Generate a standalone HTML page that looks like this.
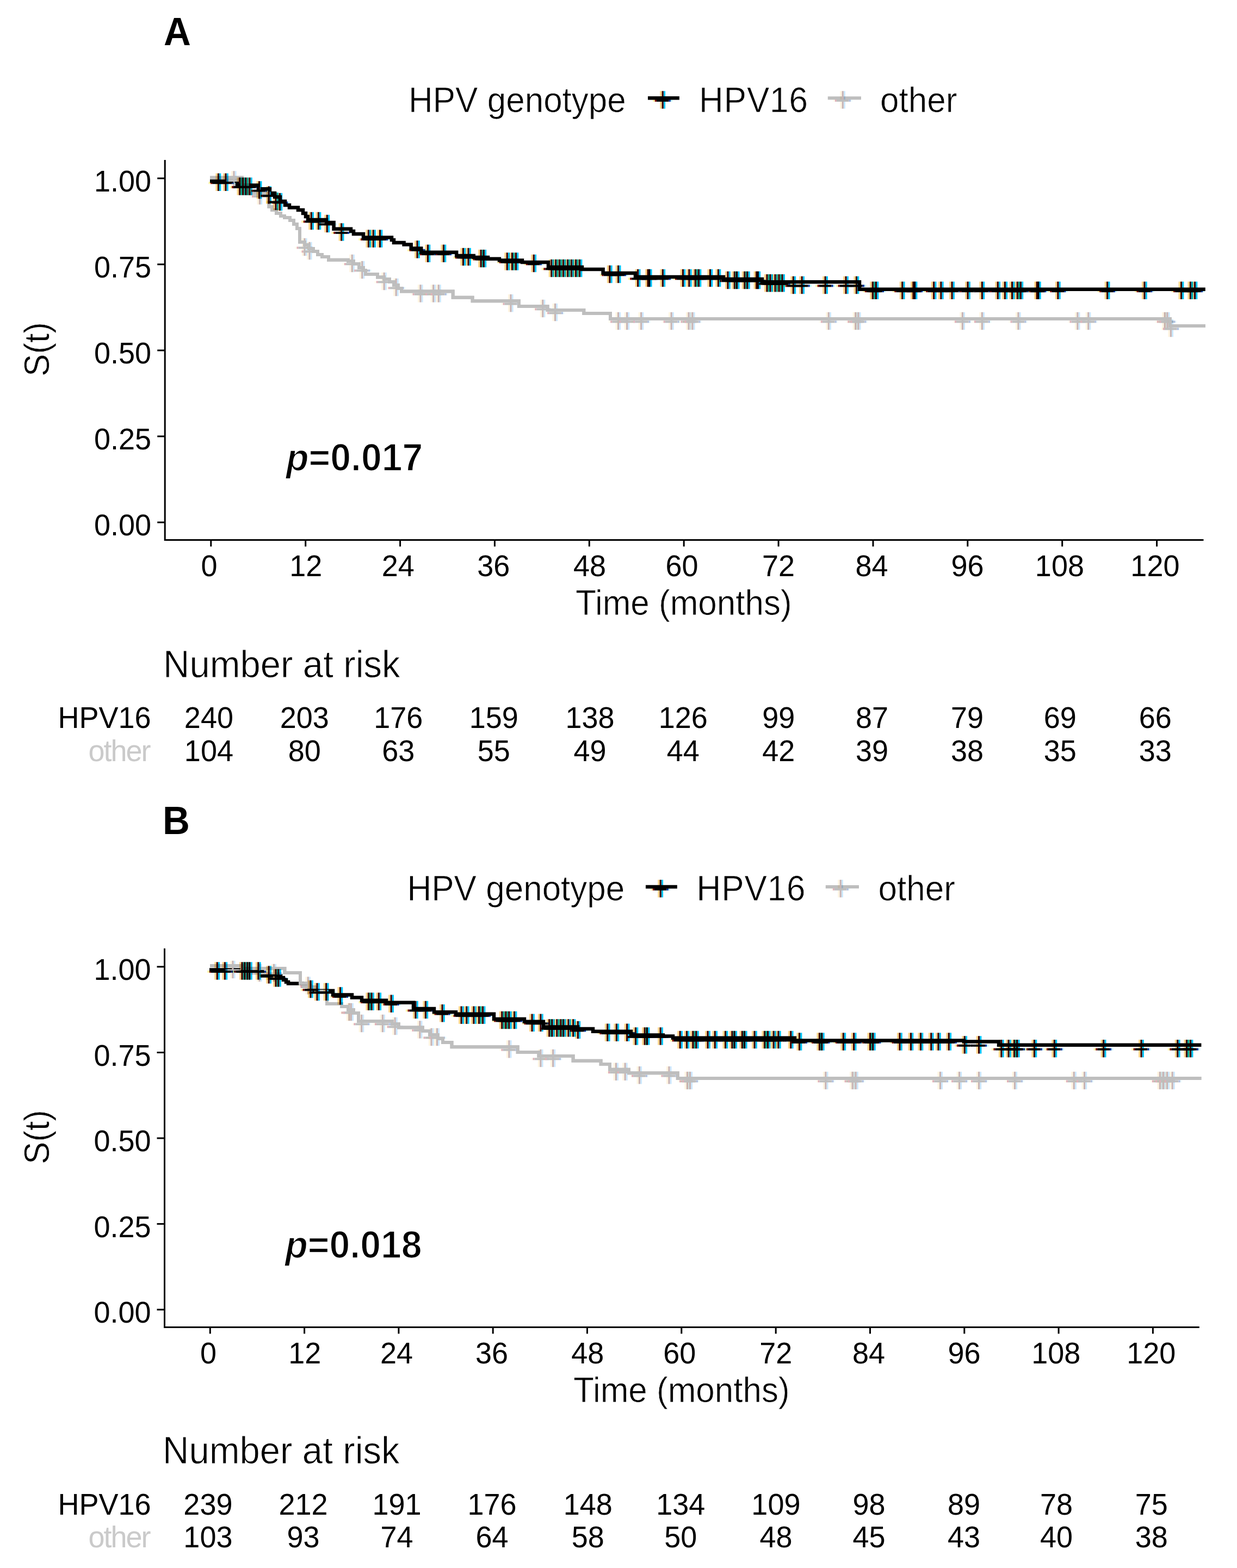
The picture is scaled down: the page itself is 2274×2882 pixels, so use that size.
<!DOCTYPE html>
<html><head><meta charset="utf-8"><style>
html,body{margin:0;padding:0;background:#fff;}
svg{display:block;}
text{font-family:"Liberation Sans",Arial,sans-serif;}
</style></head><body>
<svg width="2274" height="2882" viewBox="0 0 2274 2882">
<rect width="2274" height="2882" fill="#fff"/>
<defs>
<g id="cb" style="mix-blend-mode:multiply"><rect x="-5" y="-16.2" width="3.4" height="32.4" fill="#ffd488"/><rect x="1.5" y="-16.2" width="3.3" height="32.4" fill="#00c4ff"/><rect x="-1.6" y="-16.2" width="3.1" height="32.4" fill="#3c0000"/><rect x="-18" y="-0.6" width="3.5" height="4" fill="#fff4a0"/><rect x="-14.5" y="-0.6" width="3.1" height="4" fill="#800000"/><rect x="-11.4" y="-0.6" width="22.7" height="4" fill="#000"/><rect x="11.3" y="-0.6" width="3.3" height="4" fill="#0030a0"/><rect x="14.6" y="-0.6" width="3.1" height="4" fill="#c0ffff"/></g>
<g id="cg"><g style="mix-blend-mode:multiply"><rect x="-5" y="-16.2" width="3.4" height="32.4" fill="#fff4e0"/><rect x="1.5" y="-16.2" width="3.1" height="32.4" fill="#cce8ff"/><rect x="-18" y="-0.6" width="3.5" height="4" fill="#fffff0"/><rect x="14.6" y="-0.6" width="3.1" height="4" fill="#f0ffff"/></g><rect x="-1.6" y="-16.2" width="3.1" height="32.4" fill="#c8b4b4"/><rect x="-14.5" y="-0.6" width="3.1" height="4" fill="#e0b0b8"/><rect x="-11.4" y="-0.6" width="22.7" height="4" fill="#bebebe"/><rect x="11.3" y="-0.6" width="3.3" height="4" fill="#b0c0e0"/></g>
</defs>
<text transform="translate(301.0 82.6) scale(1 1.040)" font-size="69" font-weight="bold">A</text>
<text transform="translate(751.0 206.0) scale(1 1.040)" font-size="62" stroke="#fff" stroke-width="0.7">HPV genotype</text>
<line x1="1191.0" y1="180.3" x2="1248.9" y2="180.3" stroke="#000" stroke-width="6.5"/>
<use href="#cb" x="1218.3" y="183.5"/>
<text transform="translate(1285.0 206.0) scale(1 1.040)" font-size="62" stroke="#fff" stroke-width="0.7" textLength="200" lengthAdjust="spacing">HPV16</text>
<line x1="1521.8" y1="180.3" x2="1583.0" y2="180.3" stroke="#bebebe" stroke-width="6.0"/>
<use href="#cg" x="1549.3" y="183.5"/>
<text transform="translate(1618.0 206.0) scale(1 1.040)" font-size="62" stroke="#fff" stroke-width="0.7">other</text>
<path d="M303.2 294.0 V992.5 H2212.5" fill="none" stroke="#000" stroke-width="3"/>
<line x1="289.2" y1="327.8" x2="303.2" y2="327.8" stroke="#000" stroke-width="3"/>
<text transform="translate(278.0 352.1) scale(1 1.040)" font-size="54" text-anchor="end">1.00</text>
<line x1="289.2" y1="485.9" x2="303.2" y2="485.9" stroke="#000" stroke-width="3"/>
<text transform="translate(278.0 510.2) scale(1 1.040)" font-size="54" text-anchor="end">0.75</text>
<line x1="289.2" y1="644.0" x2="303.2" y2="644.0" stroke="#000" stroke-width="3"/>
<text transform="translate(278.0 668.3) scale(1 1.040)" font-size="54" text-anchor="end">0.50</text>
<line x1="289.2" y1="802.0" x2="303.2" y2="802.0" stroke="#000" stroke-width="3"/>
<text transform="translate(278.0 826.3) scale(1 1.040)" font-size="54" text-anchor="end">0.25</text>
<line x1="289.2" y1="960.1" x2="303.2" y2="960.1" stroke="#000" stroke-width="3"/>
<text transform="translate(278.0 984.4) scale(1 1.040)" font-size="54" text-anchor="end">0.00</text>
<line x1="387.8" y1="992.5" x2="387.8" y2="1004.5" stroke="#000" stroke-width="3"/>
<text transform="translate(384.4 1059.0) scale(1 1.040)" font-size="54" text-anchor="middle">0</text>
<line x1="561.7" y1="992.5" x2="561.7" y2="1004.5" stroke="#000" stroke-width="3"/>
<text transform="translate(562.3 1059.0) scale(1 1.040)" font-size="54" text-anchor="middle">12</text>
<line x1="735.6" y1="992.5" x2="735.6" y2="1004.5" stroke="#000" stroke-width="3"/>
<text transform="translate(731.8 1059.0) scale(1 1.040)" font-size="54" text-anchor="middle">24</text>
<line x1="909.4" y1="992.5" x2="909.4" y2="1004.5" stroke="#000" stroke-width="3"/>
<text transform="translate(907.3 1059.0) scale(1 1.040)" font-size="54" text-anchor="middle">36</text>
<line x1="1083.3" y1="992.5" x2="1083.3" y2="1004.5" stroke="#000" stroke-width="3"/>
<text transform="translate(1084.0 1059.0) scale(1 1.040)" font-size="54" text-anchor="middle">48</text>
<line x1="1257.2" y1="992.5" x2="1257.2" y2="1004.5" stroke="#000" stroke-width="3"/>
<text transform="translate(1253.6 1059.0) scale(1 1.040)" font-size="54" text-anchor="middle">60</text>
<line x1="1431.1" y1="992.5" x2="1431.1" y2="1004.5" stroke="#000" stroke-width="3"/>
<text transform="translate(1431.1 1059.0) scale(1 1.040)" font-size="54" text-anchor="middle">72</text>
<line x1="1605.0" y1="992.5" x2="1605.0" y2="1004.5" stroke="#000" stroke-width="3"/>
<text transform="translate(1602.4 1059.0) scale(1 1.040)" font-size="54" text-anchor="middle">84</text>
<line x1="1778.8" y1="992.5" x2="1778.8" y2="1004.5" stroke="#000" stroke-width="3"/>
<text transform="translate(1778.6 1059.0) scale(1 1.040)" font-size="54" text-anchor="middle">96</text>
<line x1="1952.7" y1="992.5" x2="1952.7" y2="1004.5" stroke="#000" stroke-width="3"/>
<text transform="translate(1947.9 1059.0) scale(1 1.040)" font-size="54" text-anchor="middle">108</text>
<line x1="2126.6" y1="992.5" x2="2126.6" y2="1004.5" stroke="#000" stroke-width="3"/>
<text transform="translate(2123.4 1059.0) scale(1 1.040)" font-size="54" text-anchor="middle">120</text>
<text transform="translate(1257.0 1130.0) scale(1 1.040)" font-size="62" stroke="#fff" stroke-width="0.7" text-anchor="middle">Time (months)</text>
<text transform="translate(90.0 642.0) rotate(-90) scale(1 1.040)" font-size="62" stroke="#fff" stroke-width="0.7" text-anchor="middle">S(t)</text>
<path d="M386.0 332.8 L436.0 332.8 L436.0 340.5 L475.0 340.5 L475.0 347.2 L496.0 347.2 L496.0 355.0 L505.0 355.0 L505.0 362.0 L515.0 362.0 L515.0 370.0 L524.0 370.0 L524.0 377.0 L532.0 377.0 L532.0 381.5 L548.0 381.5 L548.0 386.0 L557.0 386.0 L557.0 392.0 L562.0 392.0 L562.0 398.0 L566.0 398.0 L566.0 404.0 L600.0 404.0 L600.0 409.0 L613.6 409.0 L613.6 420.7 L645.0 420.7 L645.0 425.0 L650.0 425.0 L650.0 430.0 L668.0 430.0 L668.0 436.6 L720.0 436.6 L720.0 441.0 L724.0 441.0 L724.0 446.0 L742.6 446.0 L742.6 449.4 L755.7 449.4 L755.7 456.4 L774.2 456.4 L774.2 463.8 L839.2 463.8 L839.2 470.0 L870.8 470.0 L870.8 473.1 L897.0 473.1 L897.0 475.7 L918.0 475.7 L918.0 478.5 L960.0 478.5 L960.0 482.0 L1008.0 482.0 L1008.0 491.0 L1070.0 491.0 L1070.0 495.0 L1108.6 495.0 L1108.6 502.0 L1168.0 502.0 L1168.0 509.0 L1330.0 509.0 L1330.0 513.0 L1401.0 513.0 L1401.0 518.3 L1580.0 518.3 L1580.0 531.8 L2215.8 531.8" fill="none" stroke="#000" stroke-width="6.5" stroke-linejoin="miter"/>
<path d="M386.0 326.5 L445.0 326.5 L445.0 340.0 L455.0 340.0 L455.0 355.6 L494.5 355.6 L494.5 380.0 L500.0 380.0 L500.0 386.0 L508.0 386.0 L508.0 392.0 L516.0 392.0 L516.0 397.0 L523.0 397.0 L523.0 400.0 L533.0 400.0 L533.0 405.0 L540.0 405.0 L540.0 412.0 L546.0 412.0 L546.0 420.0 L551.0 420.0 L551.0 445.0 L560.0 445.0 L560.0 450.0 L568.0 450.0 L568.0 457.0 L576.0 457.0 L576.0 462.0 L584.0 462.0 L584.0 468.0 L592.0 468.0 L592.0 472.0 L604.0 472.0 L604.0 477.8 L640.0 477.8 L640.0 480.0 L650.0 480.0 L650.0 485.0 L660.0 485.0 L660.0 492.0 L668.0 492.0 L668.0 497.0 L672.0 497.0 L672.0 504.0 L694.0 504.0 L694.0 509.4 L706.0 509.4 L706.0 513.0 L716.0 513.0 L716.0 518.0 L724.0 518.0 L724.0 524.0 L732.0 524.0 L732.0 530.0 L738.0 530.0 L738.0 535.4 L832.7 535.4 L832.7 546.7 L868.6 546.7 L868.6 553.2 L953.9 553.2 L953.9 563.0 L1006.6 563.0 L1006.6 570.0 L1073.3 570.0 L1073.3 576.1 L1122.0 576.1 L1122.0 586.0 L2150.8 586.0 L2150.8 599.1 L2215.8 599.1" fill="none" stroke="#bebebe" stroke-width="6.0" stroke-linejoin="miter"/>
<use href="#cg" x="430.0" y="330.5"/>
<use href="#cg" x="477.5" y="359.6"/>
<use href="#cg" x="560.0" y="454.0"/>
<use href="#cg" x="569.0" y="461.0"/>
<use href="#cg" x="647.3" y="484.0"/>
<use href="#cg" x="665.8" y="496.0"/>
<use href="#cg" x="706.2" y="517.0"/>
<use href="#cg" x="728.2" y="528.0"/>
<use href="#cg" x="773.0" y="539.4"/>
<use href="#cg" x="796.7" y="539.4"/>
<use href="#cg" x="806.3" y="539.4"/>
<use href="#cg" x="939.0" y="557.2"/>
<use href="#cg" x="997.8" y="567.0"/>
<use href="#cg" x="1020.6" y="574.0"/>
<use href="#cg" x="1136.6" y="590.0"/>
<use href="#cg" x="1152.7" y="590.0"/>
<use href="#cg" x="1178.7" y="590.0"/>
<use href="#cg" x="1234.2" y="590.0"/>
<use href="#cg" x="1266.0" y="590.0"/>
<use href="#cg" x="1273.0" y="590.0"/>
<use href="#cg" x="1523.3" y="590.0"/>
<use href="#cg" x="1572.7" y="590.0"/>
<use href="#cg" x="1578.0" y="590.0"/>
<use href="#cg" x="1769.4" y="590.0"/>
<use href="#cg" x="1805.4" y="590.0"/>
<use href="#cg" x="1872.0" y="590.0"/>
<use href="#cg" x="1980.9" y="590.0"/>
<use href="#cg" x="2000.8" y="590.0"/>
<use href="#cg" x="2141.2" y="590.0"/>
<use href="#cg" x="2146.0" y="590.0"/>
<use href="#cg" x="2152.4" y="603.1"/>
<path d="M386.0 326.5 L445.0 326.5 L445.0 340.0 L455.0 340.0 L455.0 355.6 L494.5 355.6 L494.5 380.0 L500.0 380.0 L500.0 386.0 L508.0 386.0 L508.0 392.0 L516.0 392.0 L516.0 397.0 L523.0 397.0 L523.0 400.0 L533.0 400.0 L533.0 405.0 L540.0 405.0 L540.0 412.0 L546.0 412.0 L546.0 420.0 L551.0 420.0 L551.0 445.0 L560.0 445.0 L560.0 450.0 L568.0 450.0 L568.0 457.0 L576.0 457.0 L576.0 462.0 L584.0 462.0 L584.0 468.0 L592.0 468.0 L592.0 472.0 L604.0 472.0 L604.0 477.8 L640.0 477.8 L640.0 480.0 L650.0 480.0 L650.0 485.0 L660.0 485.0 L660.0 492.0 L668.0 492.0 L668.0 497.0 L672.0 497.0 L672.0 504.0 L694.0 504.0 L694.0 509.4 L706.0 509.4 L706.0 513.0 L716.0 513.0 L716.0 518.0 L724.0 518.0 L724.0 524.0 L732.0 524.0 L732.0 530.0 L738.0 530.0 L738.0 535.4 L832.7 535.4 L832.7 546.7 L868.6 546.7 L868.6 553.2 L953.9 553.2 L953.9 563.0 L1006.6 563.0 L1006.6 570.0 L1073.3 570.0 L1073.3 576.1 L1122.0 576.1 L1122.0 586.0 L2150.8 586.0 L2150.8 599.1 L2215.8 599.1" fill="none" stroke="#bebebe" stroke-width="6.0" stroke-linejoin="miter"/>
<use href="#cb" x="401.5" y="334.8"/>
<use href="#cb" x="415.0" y="334.8"/>
<use href="#cb" x="440.6" y="342.5"/>
<use href="#cb" x="446.7" y="342.5"/>
<use href="#cb" x="452.0" y="342.5"/>
<use href="#cb" x="459.0" y="342.5"/>
<use href="#cb" x="476.6" y="349.2"/>
<use href="#cb" x="494.2" y="358.5"/>
<use href="#cb" x="507.0" y="370.0"/>
<use href="#cb" x="514.4" y="371.0"/>
<use href="#cb" x="572.3" y="406.0"/>
<use href="#cb" x="585.5" y="406.0"/>
<use href="#cb" x="601.3" y="411.0"/>
<use href="#cb" x="627.7" y="426.5"/>
<use href="#cb" x="677.5" y="438.6"/>
<use href="#cb" x="686.3" y="438.6"/>
<use href="#cb" x="698.6" y="438.6"/>
<use href="#cb" x="767.1" y="458.4"/>
<use href="#cb" x="786.5" y="465.8"/>
<use href="#cb" x="815.5" y="465.8"/>
<use href="#cb" x="851.5" y="472.0"/>
<use href="#cb" x="861.1" y="472.0"/>
<use href="#cb" x="884.1" y="475.1"/>
<use href="#cb" x="889.4" y="475.1"/>
<use href="#cb" x="932.3" y="480.5"/>
<use href="#cb" x="941.5" y="480.5"/>
<use href="#cb" x="948.5" y="480.5"/>
<use href="#cb" x="981.3" y="484.0"/>
<use href="#cb" x="1013.8" y="493.0"/>
<use href="#cb" x="1021.7" y="493.0"/>
<use href="#cb" x="1028.7" y="493.0"/>
<use href="#cb" x="1035.7" y="493.0"/>
<use href="#cb" x="1043.6" y="493.0"/>
<use href="#cb" x="1050.7" y="493.0"/>
<use href="#cb" x="1058.6" y="493.0"/>
<use href="#cb" x="1065.6" y="493.0"/>
<use href="#cb" x="1120.9" y="504.0"/>
<use href="#cb" x="1136.7" y="504.0"/>
<use href="#cb" x="1172.7" y="511.0"/>
<use href="#cb" x="1191.2" y="511.0"/>
<use href="#cb" x="1193.8" y="511.0"/>
<use href="#cb" x="1218.4" y="511.0"/>
<use href="#cb" x="1255.5" y="511.0"/>
<use href="#cb" x="1266.9" y="511.0"/>
<use href="#cb" x="1278.3" y="511.0"/>
<use href="#cb" x="1284.5" y="511.0"/>
<use href="#cb" x="1305.5" y="511.0"/>
<use href="#cb" x="1320.5" y="511.0"/>
<use href="#cb" x="1338.0" y="515.0"/>
<use href="#cb" x="1350.3" y="515.0"/>
<use href="#cb" x="1354.7" y="515.0"/>
<use href="#cb" x="1368.8" y="515.0"/>
<use href="#cb" x="1374.0" y="515.0"/>
<use href="#cb" x="1390.7" y="515.0"/>
<use href="#cb" x="1393.4" y="515.0"/>
<use href="#cb" x="1410.0" y="520.3"/>
<use href="#cb" x="1416.2" y="520.3"/>
<use href="#cb" x="1425.0" y="520.3"/>
<use href="#cb" x="1432.0" y="520.3"/>
<use href="#cb" x="1438.2" y="520.3"/>
<use href="#cb" x="1458.4" y="524.0"/>
<use href="#cb" x="1474.2" y="524.0"/>
<use href="#cb" x="1517.2" y="524.0"/>
<use href="#cb" x="1555.1" y="524.0"/>
<use href="#cb" x="1574.5" y="524.0"/>
<use href="#cb" x="1604.3" y="533.8"/>
<use href="#cb" x="1610.5" y="533.8"/>
<use href="#cb" x="1658.8" y="533.8"/>
<use href="#cb" x="1679.0" y="533.8"/>
<use href="#cb" x="1681.6" y="533.8"/>
<use href="#cb" x="1716.7" y="533.8"/>
<use href="#cb" x="1729.9" y="533.8"/>
<use href="#cb" x="1750.1" y="533.8"/>
<use href="#cb" x="1779.1" y="533.8"/>
<use href="#cb" x="1805.4" y="533.8"/>
<use href="#cb" x="1834.3" y="533.8"/>
<use href="#cb" x="1847.4" y="533.8"/>
<use href="#cb" x="1860.6" y="533.8"/>
<use href="#cb" x="1870.3" y="533.8"/>
<use href="#cb" x="1876.4" y="533.8"/>
<use href="#cb" x="1906.3" y="533.8"/>
<use href="#cb" x="1908.9" y="533.8"/>
<use href="#cb" x="1944.9" y="533.8"/>
<use href="#cb" x="2035.7" y="533.8"/>
<use href="#cb" x="2104.0" y="533.8"/>
<use href="#cb" x="2171.6" y="533.8"/>
<use href="#cb" x="2188.5" y="533.8"/>
<use href="#cb" x="2196.5" y="533.8"/>
<text transform="translate(526.0 864.6) scale(1 1.040)" font-size="68" font-weight="bold" stroke="#fff" stroke-width="1.6"><tspan font-style="italic">p</tspan>=0.017</text>
<text transform="translate(300.0 1244.8) scale(1 1.040)" font-size="67" stroke="#fff" stroke-width="0.8">Number at risk</text>
<text transform="translate(277.5 1338.4) scale(1 1.040)" font-size="54" text-anchor="end">HPV16</text>
<text transform="translate(277.5 1398.6) scale(1 1.040)" font-size="54" text-anchor="end" fill="#cacaca" textLength="115" lengthAdjust="spacing">other</text>
<text transform="translate(383.9 1338.4) scale(1 1.040)" font-size="54" text-anchor="middle">240</text>
<text transform="translate(383.9 1398.6) scale(1 1.040)" font-size="54" text-anchor="middle">104</text>
<text transform="translate(559.7 1338.4) scale(1 1.040)" font-size="54" text-anchor="middle">203</text>
<text transform="translate(559.7 1398.6) scale(1 1.040)" font-size="54" text-anchor="middle">80</text>
<text transform="translate(732.2 1338.4) scale(1 1.040)" font-size="54" text-anchor="middle">176</text>
<text transform="translate(732.2 1398.6) scale(1 1.040)" font-size="54" text-anchor="middle">63</text>
<text transform="translate(907.7 1338.4) scale(1 1.040)" font-size="54" text-anchor="middle">159</text>
<text transform="translate(907.7 1398.6) scale(1 1.040)" font-size="54" text-anchor="middle">55</text>
<text transform="translate(1084.6 1338.4) scale(1 1.040)" font-size="54" text-anchor="middle">138</text>
<text transform="translate(1084.6 1398.6) scale(1 1.040)" font-size="54" text-anchor="middle">49</text>
<text transform="translate(1255.7 1338.4) scale(1 1.040)" font-size="54" text-anchor="middle">126</text>
<text transform="translate(1255.7 1398.6) scale(1 1.040)" font-size="54" text-anchor="middle">44</text>
<text transform="translate(1431.3 1338.4) scale(1 1.040)" font-size="54" text-anchor="middle">99</text>
<text transform="translate(1431.3 1398.6) scale(1 1.040)" font-size="54" text-anchor="middle">42</text>
<text transform="translate(1603.0 1338.4) scale(1 1.040)" font-size="54" text-anchor="middle">87</text>
<text transform="translate(1603.0 1398.6) scale(1 1.040)" font-size="54" text-anchor="middle">39</text>
<text transform="translate(1778.1 1338.4) scale(1 1.040)" font-size="54" text-anchor="middle">79</text>
<text transform="translate(1778.1 1398.6) scale(1 1.040)" font-size="54" text-anchor="middle">38</text>
<text transform="translate(1948.8 1338.4) scale(1 1.040)" font-size="54" text-anchor="middle">69</text>
<text transform="translate(1948.8 1398.6) scale(1 1.040)" font-size="54" text-anchor="middle">35</text>
<text transform="translate(2123.8 1338.4) scale(1 1.040)" font-size="54" text-anchor="middle">66</text>
<text transform="translate(2123.8 1398.6) scale(1 1.040)" font-size="54" text-anchor="middle">33</text>
<text transform="translate(299.0 1532.9) scale(1 1.040)" font-size="69" font-weight="bold">B</text>
<text transform="translate(748.5 1655.4) scale(1 1.040)" font-size="62" stroke="#fff" stroke-width="0.7">HPV genotype</text>
<line x1="1187.0" y1="1629.9" x2="1244.9" y2="1629.9" stroke="#000" stroke-width="6.5"/>
<use href="#cb" x="1214.3" y="1633.2"/>
<text transform="translate(1280.5 1655.4) scale(1 1.040)" font-size="62" stroke="#fff" stroke-width="0.7" textLength="200" lengthAdjust="spacing">HPV16</text>
<line x1="1517.8" y1="1629.9" x2="1579.0" y2="1629.9" stroke="#bebebe" stroke-width="6.0"/>
<use href="#cg" x="1545.3" y="1633.2"/>
<text transform="translate(1614.5 1655.4) scale(1 1.040)" font-size="62" stroke="#fff" stroke-width="0.7">other</text>
<path d="M302.5 1743.2 V2439.4 H2204.8" fill="none" stroke="#000" stroke-width="3"/>
<line x1="288.5" y1="1776.9" x2="302.5" y2="1776.9" stroke="#000" stroke-width="3"/>
<text transform="translate(277.5 1801.2) scale(1 1.040)" font-size="54" text-anchor="end">1.00</text>
<line x1="288.5" y1="1934.5" x2="302.5" y2="1934.5" stroke="#000" stroke-width="3"/>
<text transform="translate(277.5 1958.8) scale(1 1.040)" font-size="54" text-anchor="end">0.75</text>
<line x1="288.5" y1="2092.0" x2="302.5" y2="2092.0" stroke="#000" stroke-width="3"/>
<text transform="translate(277.5 2116.3) scale(1 1.040)" font-size="54" text-anchor="end">0.50</text>
<line x1="288.5" y1="2249.6" x2="302.5" y2="2249.6" stroke="#000" stroke-width="3"/>
<text transform="translate(277.5 2273.9) scale(1 1.040)" font-size="54" text-anchor="end">0.25</text>
<line x1="288.5" y1="2407.1" x2="302.5" y2="2407.1" stroke="#000" stroke-width="3"/>
<text transform="translate(277.5 2431.4) scale(1 1.040)" font-size="54" text-anchor="end">0.00</text>
<line x1="386.3" y1="2439.4" x2="386.3" y2="2451.4" stroke="#000" stroke-width="3"/>
<text transform="translate(382.9 2506.0) scale(1 1.040)" font-size="54" text-anchor="middle">0</text>
<line x1="559.6" y1="2439.4" x2="559.6" y2="2451.4" stroke="#000" stroke-width="3"/>
<text transform="translate(560.2 2506.0) scale(1 1.040)" font-size="54" text-anchor="middle">12</text>
<line x1="732.9" y1="2439.4" x2="732.9" y2="2451.4" stroke="#000" stroke-width="3"/>
<text transform="translate(729.1 2506.0) scale(1 1.040)" font-size="54" text-anchor="middle">24</text>
<line x1="906.2" y1="2439.4" x2="906.2" y2="2451.4" stroke="#000" stroke-width="3"/>
<text transform="translate(904.1 2506.0) scale(1 1.040)" font-size="54" text-anchor="middle">36</text>
<line x1="1079.5" y1="2439.4" x2="1079.5" y2="2451.4" stroke="#000" stroke-width="3"/>
<text transform="translate(1080.2 2506.0) scale(1 1.040)" font-size="54" text-anchor="middle">48</text>
<line x1="1252.8" y1="2439.4" x2="1252.8" y2="2451.4" stroke="#000" stroke-width="3"/>
<text transform="translate(1249.2 2506.0) scale(1 1.040)" font-size="54" text-anchor="middle">60</text>
<line x1="1426.2" y1="2439.4" x2="1426.2" y2="2451.4" stroke="#000" stroke-width="3"/>
<text transform="translate(1426.2 2506.0) scale(1 1.040)" font-size="54" text-anchor="middle">72</text>
<line x1="1599.5" y1="2439.4" x2="1599.5" y2="2451.4" stroke="#000" stroke-width="3"/>
<text transform="translate(1596.9 2506.0) scale(1 1.040)" font-size="54" text-anchor="middle">84</text>
<line x1="1772.8" y1="2439.4" x2="1772.8" y2="2451.4" stroke="#000" stroke-width="3"/>
<text transform="translate(1772.6 2506.0) scale(1 1.040)" font-size="54" text-anchor="middle">96</text>
<line x1="1946.1" y1="2439.4" x2="1946.1" y2="2451.4" stroke="#000" stroke-width="3"/>
<text transform="translate(1941.3 2506.0) scale(1 1.040)" font-size="54" text-anchor="middle">108</text>
<line x1="2119.4" y1="2439.4" x2="2119.4" y2="2451.4" stroke="#000" stroke-width="3"/>
<text transform="translate(2116.2 2506.0) scale(1 1.040)" font-size="54" text-anchor="middle">120</text>
<text transform="translate(1253.0 2576.5) scale(1 1.040)" font-size="62" stroke="#fff" stroke-width="0.7" text-anchor="middle">Time (months)</text>
<text transform="translate(90.0 2090.0) rotate(-90) scale(1 1.040)" font-size="62" stroke="#fff" stroke-width="0.7" text-anchor="middle">S(t)</text>
<path d="M385.0 1782.5 L482.0 1782.5 L482.0 1793.5 L516.0 1793.5 L516.0 1797.0 L521.0 1797.0 L521.0 1801.0 L526.0 1801.0 L526.0 1805.0 L530.0 1805.0 L530.0 1807.8 L556.0 1807.8 L556.0 1812.0 L570.0 1812.0 L570.0 1816.0 L578.0 1816.0 L578.0 1821.0 L612.0 1821.0 L612.0 1828.5 L647.0 1828.5 L647.0 1833.5 L665.0 1833.5 L665.0 1838.7 L710.0 1838.7 L710.0 1842.7 L760.0 1842.7 L760.0 1854.0 L798.0 1854.0 L798.0 1860.3 L838.0 1860.3 L838.0 1863.7 L908.0 1863.7 L908.0 1873.0 L964.0 1873.0 L964.0 1877.8 L999.0 1877.8 L999.0 1887.4 L1062.0 1887.4 L1062.0 1891.0 L1090.0 1891.0 L1090.0 1895.7 L1160.0 1895.7 L1160.0 1902.5 L1219.0 1902.5 L1219.0 1904.6 L1237.0 1904.6 L1237.0 1907.8 L1461.0 1907.8 L1461.0 1912.5 L1772.0 1912.5 L1772.0 1914.6 L1836.0 1914.6 L1836.0 1920.8 L2208.4 1920.8" fill="none" stroke="#000" stroke-width="6.5" stroke-linejoin="miter"/>
<path d="M386.0 1775.0 L445.0 1775.0 L445.0 1780.0 L523.4 1780.0 L523.4 1788.0 L552.0 1788.0 L552.0 1807.5 L570.0 1807.5 L570.0 1815.0 L580.0 1815.0 L580.0 1822.0 L601.0 1822.0 L601.0 1845.0 L628.0 1845.0 L628.0 1850.0 L640.0 1850.0 L640.0 1856.0 L650.0 1856.0 L650.0 1862.0 L659.0 1862.0 L659.0 1877.0 L721.0 1877.0 L721.0 1882.0 L733.0 1882.0 L733.0 1888.4 L777.0 1888.4 L777.0 1895.0 L790.0 1895.0 L790.0 1902.0 L805.0 1902.0 L805.0 1909.0 L814.0 1909.0 L814.0 1916.0 L830.5 1916.0 L830.5 1924.3 L951.7 1924.3 L951.7 1934.0 L990.4 1934.0 L990.4 1941.0 L1053.6 1941.0 L1053.6 1949.8 L1104.6 1949.8 L1104.6 1956.0 L1121.0 1956.0 L1121.0 1965.7 L1156.0 1965.7 L1156.0 1972.2 L1245.8 1972.2 L1245.8 1982.0 L2208.4 1982.0" fill="none" stroke="#bebebe" stroke-width="6.0" stroke-linejoin="miter"/>
<use href="#cg" x="428.0" y="1782.0"/>
<use href="#cg" x="477.0" y="1788.0"/>
<use href="#cg" x="503.5" y="1788.0"/>
<use href="#cg" x="566.3" y="1811.5"/>
<use href="#cg" x="641.9" y="1860.0"/>
<use href="#cg" x="645.4" y="1860.0"/>
<use href="#cg" x="664.7" y="1881.0"/>
<use href="#cg" x="703.4" y="1881.0"/>
<use href="#cg" x="726.2" y="1886.0"/>
<use href="#cg" x="771.9" y="1892.4"/>
<use href="#cg" x="793.0" y="1906.0"/>
<use href="#cg" x="803.5" y="1906.0"/>
<use href="#cg" x="935.9" y="1928.3"/>
<use href="#cg" x="993.9" y="1945.0"/>
<use href="#cg" x="1016.7" y="1945.0"/>
<use href="#cg" x="1132.5" y="1969.7"/>
<use href="#cg" x="1149.2" y="1969.7"/>
<use href="#cg" x="1175.5" y="1976.2"/>
<use href="#cg" x="1230.0" y="1976.2"/>
<use href="#cg" x="1263.4" y="1986.0"/>
<use href="#cg" x="1268.6" y="1986.0"/>
<use href="#cg" x="1517.9" y="1986.0"/>
<use href="#cg" x="1567.1" y="1986.0"/>
<use href="#cg" x="1573.2" y="1986.0"/>
<use href="#cg" x="1728.5" y="1986.0"/>
<use href="#cg" x="1763.6" y="1986.0"/>
<use href="#cg" x="1799.6" y="1986.0"/>
<use href="#cg" x="1865.5" y="1986.0"/>
<use href="#cg" x="1974.3" y="1986.0"/>
<use href="#cg" x="1993.6" y="1986.0"/>
<use href="#cg" x="2132.3" y="1986.0"/>
<use href="#cg" x="2138.5" y="1986.0"/>
<use href="#cg" x="2145.5" y="1986.0"/>
<use href="#cg" x="2155.2" y="1986.0"/>
<path d="M386.0 1775.0 L445.0 1775.0 L445.0 1780.0 L523.4 1780.0 L523.4 1788.0 L552.0 1788.0 L552.0 1807.5 L570.0 1807.5 L570.0 1815.0 L580.0 1815.0 L580.0 1822.0 L601.0 1822.0 L601.0 1845.0 L628.0 1845.0 L628.0 1850.0 L640.0 1850.0 L640.0 1856.0 L650.0 1856.0 L650.0 1862.0 L659.0 1862.0 L659.0 1877.0 L721.0 1877.0 L721.0 1882.0 L733.0 1882.0 L733.0 1888.4 L777.0 1888.4 L777.0 1895.0 L790.0 1895.0 L790.0 1902.0 L805.0 1902.0 L805.0 1909.0 L814.0 1909.0 L814.0 1916.0 L830.5 1916.0 L830.5 1924.3 L951.7 1924.3 L951.7 1934.0 L990.4 1934.0 L990.4 1941.0 L1053.6 1941.0 L1053.6 1949.8 L1104.6 1949.8 L1104.6 1956.0 L1121.0 1956.0 L1121.0 1965.7 L1156.0 1965.7 L1156.0 1972.2 L1245.8 1972.2 L1245.8 1982.0 L2208.4 1982.0" fill="none" stroke="#bebebe" stroke-width="6.0" stroke-linejoin="miter"/>
<use href="#cb" x="399.3" y="1784.5"/>
<use href="#cb" x="413.4" y="1784.5"/>
<use href="#cb" x="445.0" y="1784.5"/>
<use href="#cb" x="450.0" y="1784.5"/>
<use href="#cb" x="455.0" y="1784.5"/>
<use href="#cb" x="459.0" y="1784.5"/>
<use href="#cb" x="474.9" y="1784.5"/>
<use href="#cb" x="494.2" y="1791.5"/>
<use href="#cb" x="507.0" y="1797.5"/>
<use href="#cb" x="512.0" y="1797.5"/>
<use href="#cb" x="571.0" y="1818.0"/>
<use href="#cb" x="583.0" y="1823.0"/>
<use href="#cb" x="599.7" y="1823.0"/>
<use href="#cb" x="625.5" y="1830.5"/>
<use href="#cb" x="677.5" y="1840.7"/>
<use href="#cb" x="683.2" y="1840.7"/>
<use href="#cb" x="696.3" y="1840.7"/>
<use href="#cb" x="719.2" y="1844.7"/>
<use href="#cb" x="764.0" y="1856.0"/>
<use href="#cb" x="782.4" y="1856.0"/>
<use href="#cb" x="813.1" y="1862.3"/>
<use href="#cb" x="848.1" y="1865.7"/>
<use href="#cb" x="857.8" y="1865.7"/>
<use href="#cb" x="870.9" y="1865.7"/>
<use href="#cb" x="880.6" y="1865.7"/>
<use href="#cb" x="887.6" y="1865.7"/>
<use href="#cb" x="922.8" y="1875.0"/>
<use href="#cb" x="929.8" y="1875.0"/>
<use href="#cb" x="935.9" y="1875.0"/>
<use href="#cb" x="945.6" y="1875.0"/>
<use href="#cb" x="978.1" y="1879.8"/>
<use href="#cb" x="993.9" y="1879.8"/>
<use href="#cb" x="1009.7" y="1889.4"/>
<use href="#cb" x="1015.0" y="1889.4"/>
<use href="#cb" x="1023.8" y="1889.4"/>
<use href="#cb" x="1030.8" y="1889.4"/>
<use href="#cb" x="1036.0" y="1889.4"/>
<use href="#cb" x="1044.9" y="1889.4"/>
<use href="#cb" x="1053.7" y="1889.4"/>
<use href="#cb" x="1062.4" y="1893.0"/>
<use href="#cb" x="1116.8" y="1897.7"/>
<use href="#cb" x="1133.4" y="1897.7"/>
<use href="#cb" x="1152.7" y="1897.7"/>
<use href="#cb" x="1168.5" y="1904.5"/>
<use href="#cb" x="1185.2" y="1904.5"/>
<use href="#cb" x="1189.6" y="1904.5"/>
<use href="#cb" x="1214.2" y="1904.5"/>
<use href="#cb" x="1250.2" y="1911.0"/>
<use href="#cb" x="1262.5" y="1911.0"/>
<use href="#cb" x="1273.9" y="1911.0"/>
<use href="#cb" x="1280.0" y="1911.0"/>
<use href="#cb" x="1301.1" y="1911.0"/>
<use href="#cb" x="1314.3" y="1911.0"/>
<use href="#cb" x="1333.6" y="1911.0"/>
<use href="#cb" x="1345.9" y="1911.0"/>
<use href="#cb" x="1350.3" y="1911.0"/>
<use href="#cb" x="1364.4" y="1911.0"/>
<use href="#cb" x="1368.8" y="1911.0"/>
<use href="#cb" x="1387.1" y="1911.0"/>
<use href="#cb" x="1405.5" y="1911.0"/>
<use href="#cb" x="1411.6" y="1911.0"/>
<use href="#cb" x="1422.2" y="1911.0"/>
<use href="#cb" x="1430.9" y="1911.0"/>
<use href="#cb" x="1453.8" y="1911.0"/>
<use href="#cb" x="1469.6" y="1914.5"/>
<use href="#cb" x="1506.5" y="1914.5"/>
<use href="#cb" x="1510.9" y="1914.5"/>
<use href="#cb" x="1550.4" y="1914.5"/>
<use href="#cb" x="1569.7" y="1914.5"/>
<use href="#cb" x="1599.6" y="1914.5"/>
<use href="#cb" x="1604.9" y="1914.5"/>
<use href="#cb" x="1654.0" y="1914.5"/>
<use href="#cb" x="1674.5" y="1914.5"/>
<use href="#cb" x="1692.5" y="1914.5"/>
<use href="#cb" x="1711.8" y="1914.5"/>
<use href="#cb" x="1725.0" y="1914.5"/>
<use href="#cb" x="1744.3" y="1914.5"/>
<use href="#cb" x="1773.3" y="1920.4"/>
<use href="#cb" x="1799.6" y="1920.4"/>
<use href="#cb" x="1840.9" y="1927.2"/>
<use href="#cb" x="1854.1" y="1927.2"/>
<use href="#cb" x="1864.6" y="1927.2"/>
<use href="#cb" x="1869.9" y="1927.2"/>
<use href="#cb" x="1901.5" y="1927.2"/>
<use href="#cb" x="1938.4" y="1927.2"/>
<use href="#cb" x="2028.7" y="1927.2"/>
<use href="#cb" x="2098.1" y="1927.2"/>
<use href="#cb" x="2164.8" y="1927.2"/>
<use href="#cb" x="2181.5" y="1927.2"/>
<use href="#cb" x="2188.6" y="1927.2"/>
<text transform="translate(524.2 2311.8) scale(1 1.040)" font-size="68" font-weight="bold" stroke="#fff" stroke-width="1.6"><tspan font-style="italic">p</tspan>=0.018</text>
<text transform="translate(299.0 2690.4) scale(1 1.040)" font-size="67" stroke="#fff" stroke-width="0.8">Number at risk</text>
<text transform="translate(277.5 2783.9) scale(1 1.040)" font-size="54" text-anchor="end">HPV16</text>
<text transform="translate(277.5 2844.2) scale(1 1.040)" font-size="54" text-anchor="end" fill="#cacaca" textLength="115" lengthAdjust="spacing">other</text>
<text transform="translate(382.4 2783.9) scale(1 1.040)" font-size="54" text-anchor="middle">239</text>
<text transform="translate(382.4 2844.2) scale(1 1.040)" font-size="54" text-anchor="middle">103</text>
<text transform="translate(557.6 2783.9) scale(1 1.040)" font-size="54" text-anchor="middle">212</text>
<text transform="translate(557.6 2844.2) scale(1 1.040)" font-size="54" text-anchor="middle">93</text>
<text transform="translate(729.6 2783.9) scale(1 1.040)" font-size="54" text-anchor="middle">191</text>
<text transform="translate(729.6 2844.2) scale(1 1.040)" font-size="54" text-anchor="middle">74</text>
<text transform="translate(904.5 2783.9) scale(1 1.040)" font-size="54" text-anchor="middle">176</text>
<text transform="translate(904.5 2844.2) scale(1 1.040)" font-size="54" text-anchor="middle">64</text>
<text transform="translate(1080.8 2783.9) scale(1 1.040)" font-size="54" text-anchor="middle">148</text>
<text transform="translate(1080.8 2844.2) scale(1 1.040)" font-size="54" text-anchor="middle">58</text>
<text transform="translate(1251.3 2783.9) scale(1 1.040)" font-size="54" text-anchor="middle">134</text>
<text transform="translate(1251.3 2844.2) scale(1 1.040)" font-size="54" text-anchor="middle">50</text>
<text transform="translate(1426.4 2783.9) scale(1 1.040)" font-size="54" text-anchor="middle">109</text>
<text transform="translate(1426.4 2844.2) scale(1 1.040)" font-size="54" text-anchor="middle">48</text>
<text transform="translate(1597.5 2783.9) scale(1 1.040)" font-size="54" text-anchor="middle">98</text>
<text transform="translate(1597.5 2844.2) scale(1 1.040)" font-size="54" text-anchor="middle">45</text>
<text transform="translate(1772.0 2783.9) scale(1 1.040)" font-size="54" text-anchor="middle">89</text>
<text transform="translate(1772.0 2844.2) scale(1 1.040)" font-size="54" text-anchor="middle">43</text>
<text transform="translate(1942.1 2783.9) scale(1 1.040)" font-size="54" text-anchor="middle">78</text>
<text transform="translate(1942.1 2844.2) scale(1 1.040)" font-size="54" text-anchor="middle">40</text>
<text transform="translate(2116.7 2783.9) scale(1 1.040)" font-size="54" text-anchor="middle">75</text>
<text transform="translate(2116.7 2844.2) scale(1 1.040)" font-size="54" text-anchor="middle">38</text>
</svg>
</body></html>
